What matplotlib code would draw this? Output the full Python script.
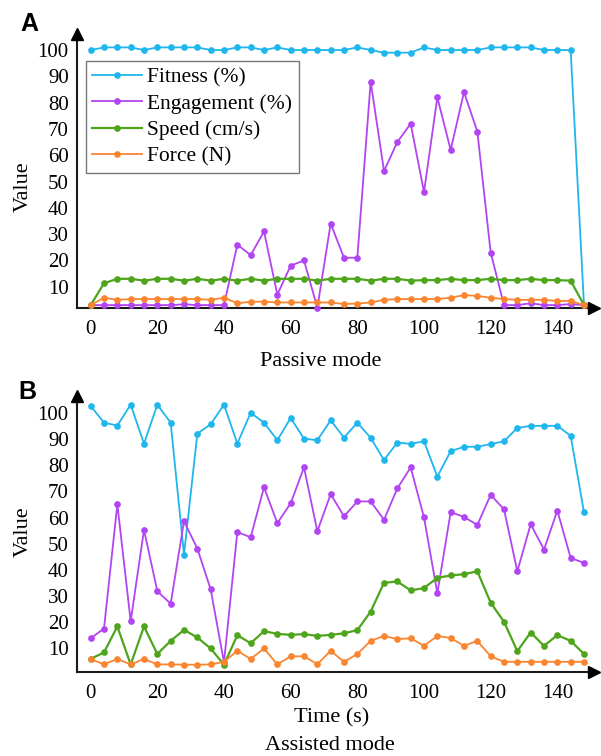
import matplotlib
matplotlib.use("Agg")
import matplotlib.pyplot as plt

# ---------------- data ----------------
time_s = [0, 4, 8, 12, 16, 20, 24, 28, 32, 36, 40, 44, 48, 52, 56, 60, 64, 68, 72,
          76, 80, 84, 88, 92, 96, 100, 104, 108, 112, 116, 120, 124, 128, 132, 136,
          140, 144, 148]

fitness_A = [100, 101, 101, 101, 100, 101, 101, 101, 101, 100, 100, 101, 101, 100, 101, 100,
             100, 100, 100, 100, 101, 100, 99, 99, 99, 101, 100, 100, 100, 100, 101, 101,
             101, 101, 100, 100, 100, 3]
engagement_A = [3, 3, 3, 3, 3, 3, 3, 3.3, 3, 3, 3, 26, 22, 31, 7, 18,
                20, 2, 34, 21, 21, 88, 54, 65, 72, 46, 82, 62, 84, 69, 23, 3,
                3, 3.7, 3, 3, 3.4, 3]
speed_A = [3, 11.3, 13, 13, 12.3, 13, 13, 12.3, 13, 12.3, 13, 12.3, 13, 12.3, 13, 13,
           13, 12.3, 13, 13, 13, 12.3, 13, 13, 12.3, 12.5, 12.5, 13, 12.5, 12.5, 13, 12.5,
           12.5, 13, 12.5, 12.5, 12.3, 3]
force_A = [3, 5.8, 5, 5.3, 5.3, 5.3, 5.3, 5.3, 5.3, 5, 5.8, 3.7, 4.3, 4.3, 4, 4,
           4, 4, 4, 3.4, 3.6, 4, 5, 5.3, 5.3, 5.3, 5.3, 5.8, 6.8, 6.5, 5.8, 5.3,
           5, 5, 5, 4.6, 4.6, 3]

fitness_B = [102.7, 96.3, 95.2, 103.2, 88.3, 103.2, 96.3, 45.9, 92.1, 95.7, 103.2, 88.3,
             100.1, 96.3, 89.6, 98.1, 90.2, 89.6, 97.2, 90.6, 96.3, 90.5, 82, 88.7, 88.2,
             89.2, 75.7, 85.4, 87.1, 87.1, 88.1, 89.2, 94.3, 95.1, 95.1, 95.1, 91.3, 62]
engagement_B = [13.9, 17.6, 65.1, 20.4, 55.3, 31.9, 27.1, 58.6, 48.2, 32.6, 4.7, 54.5,
                52.5, 71.6, 57.9, 65.5, 79.2, 54.8, 69, 60.5, 66.2, 66.2, 59.2, 71.2, 79.2,
                60.1, 31.1, 62.1, 60.3, 57.2, 68.7, 63.2, 39.5, 57.5, 47.8, 62.7, 44.6, 42.7]
speed_B = [6, 8.5, 18.4, 3.9, 18.4, 7.9, 12.9, 17.1, 14.2, 10, 3.8, 15.1, 12, 16.6, 15.6,
           15.2, 15.5, 14.8, 15.2, 15.8, 17, 24.1, 35.1, 35.6, 32.2, 33.1, 37, 37.9, 38.4,
           39.5, 27.5, 20.2, 9, 16.1, 11, 15.1, 12.9, 7.9]
force_B = [6, 3.9, 6, 3.9, 6, 3.9, 3.9, 3.8, 3.8, 3.9, 4.9, 9.1, 6, 10, 3.9, 7,
           7, 4, 9.1, 4.9, 7.9, 12.9, 14.8, 13.6, 13.9, 11, 14.8, 14, 11, 12.9, 7, 4.9,
           4.9, 4.9, 4.9, 4.9, 4.9, 4.9]

series_labels = ["Fitness (%)", "Engagement (%)", "Speed (cm/s)", "Force (N)"]
series_colors = ["#1FB6EE", "#B244F2", "#4EA51C", "#FA8530"]
y_ticks = [10, 20, 30, 40, 50, 60, 70, 80, 90, 100]
x_ticks = [0, 20, 40, 60, 80, 100, 120, 140]

# ---------------- figure ----------------
plt.rcParams["font.family"] = ["Liberation Serif", "DejaVu Serif"]
W, H = 601, 756
fig = plt.figure(figsize=(W / 100, H / 100), dpi=100)


def px_axes(left, top, right, bottom):
    return fig.add_axes([left / W, 1 - bottom / H, (right - left) / W, (bottom - top) / H])


axA = px_axes(77, 34, 594, 308)
axB = px_axes(77, 396, 594, 671.5)

panels = [
    (axA, [fitness_A, engagement_A, speed_A, force_A], (1.9, 106.1)),
    (axB, [fitness_B, engagement_B, speed_B, force_B], (1.2, 106.5)),
]

for ax, data, ylim in panels:
    for vals, lab, col in zip(data, series_labels, series_colors):
        lw = 1.6 if lab.startswith("Speed") else 1.3
        ax.plot(time_s, vals, color=col, lw=lw, marker="o", ms=3.8, label=lab,
                clip_on=False, zorder=3)
    ax.set_xlim(-4.1, 151.0)
    ax.set_ylim(*ylim)
    ax.set_xticks(x_ticks)
    ax.set_yticks(y_ticks)
    ax.tick_params(axis="both", length=0, labelsize=15)
    ax.tick_params(axis="x", pad=9)
    ax.tick_params(axis="y", pad=6)
    for s in ["top", "right"]:
        ax.spines[s].set_visible(False)
    for s in ["left", "bottom"]:
        ax.spines[s].set_linewidth(1.5)
        ax.spines[s].set_color("#1a1a1a")
    ax.plot(0, 1, marker="^", color="black", ms=9, transform=ax.transAxes,
            clip_on=False, zorder=5)
    ax.plot(1, 0, marker=">", color="black", ms=9, transform=ax.transAxes,
            clip_on=False, zorder=5)
    ax.patch.set_alpha(0)

# legend in panel A
leg = axA.legend(loc="upper left", bbox_to_anchor=(86 / W, 1 - 61 / H),
                 bbox_transform=fig.transFigure, fontsize=15.5, frameon=True,
                 fancybox=False, edgecolor="#555555", handlelength=2.3,
                 handletextpad=0.25, labelspacing=0.29, borderpad=0.3,
                 borderaxespad=0)
leg.get_frame().set_linewidth(1.0)

# axis labels / titles
fig.text(23 / W, 1 - 187 / H, "Value", rotation=90, ha="center", va="center", fontsize=16)
fig.text(23 / W, 1 - 532 / H, "Value", rotation=90, ha="center", va="center", fontsize=16)
fig.text(321 / W, 1 - 362 / H, "Passive mode", ha="center", va="center", fontsize=16)
fig.text(332 / W, 1 - 718 / H, "Time (s)", ha="center", va="center", fontsize=16)
fig.text(330 / W, 1 - 745 / H, "Assisted mode", ha="center", va="center", fontsize=16)

fig.text(29 / W, 1 - 24 / H, "A", ha="center", va="center", fontsize=18,
         fontweight="bold", family=["Liberation Sans", "DejaVu Sans"])
fig.text(27 / W, 1 - 392 / H, "B", ha="center", va="center", fontsize=18,
         fontweight="bold", family=["Liberation Sans", "DejaVu Sans"])

fig.savefig("out.png", dpi=100)
